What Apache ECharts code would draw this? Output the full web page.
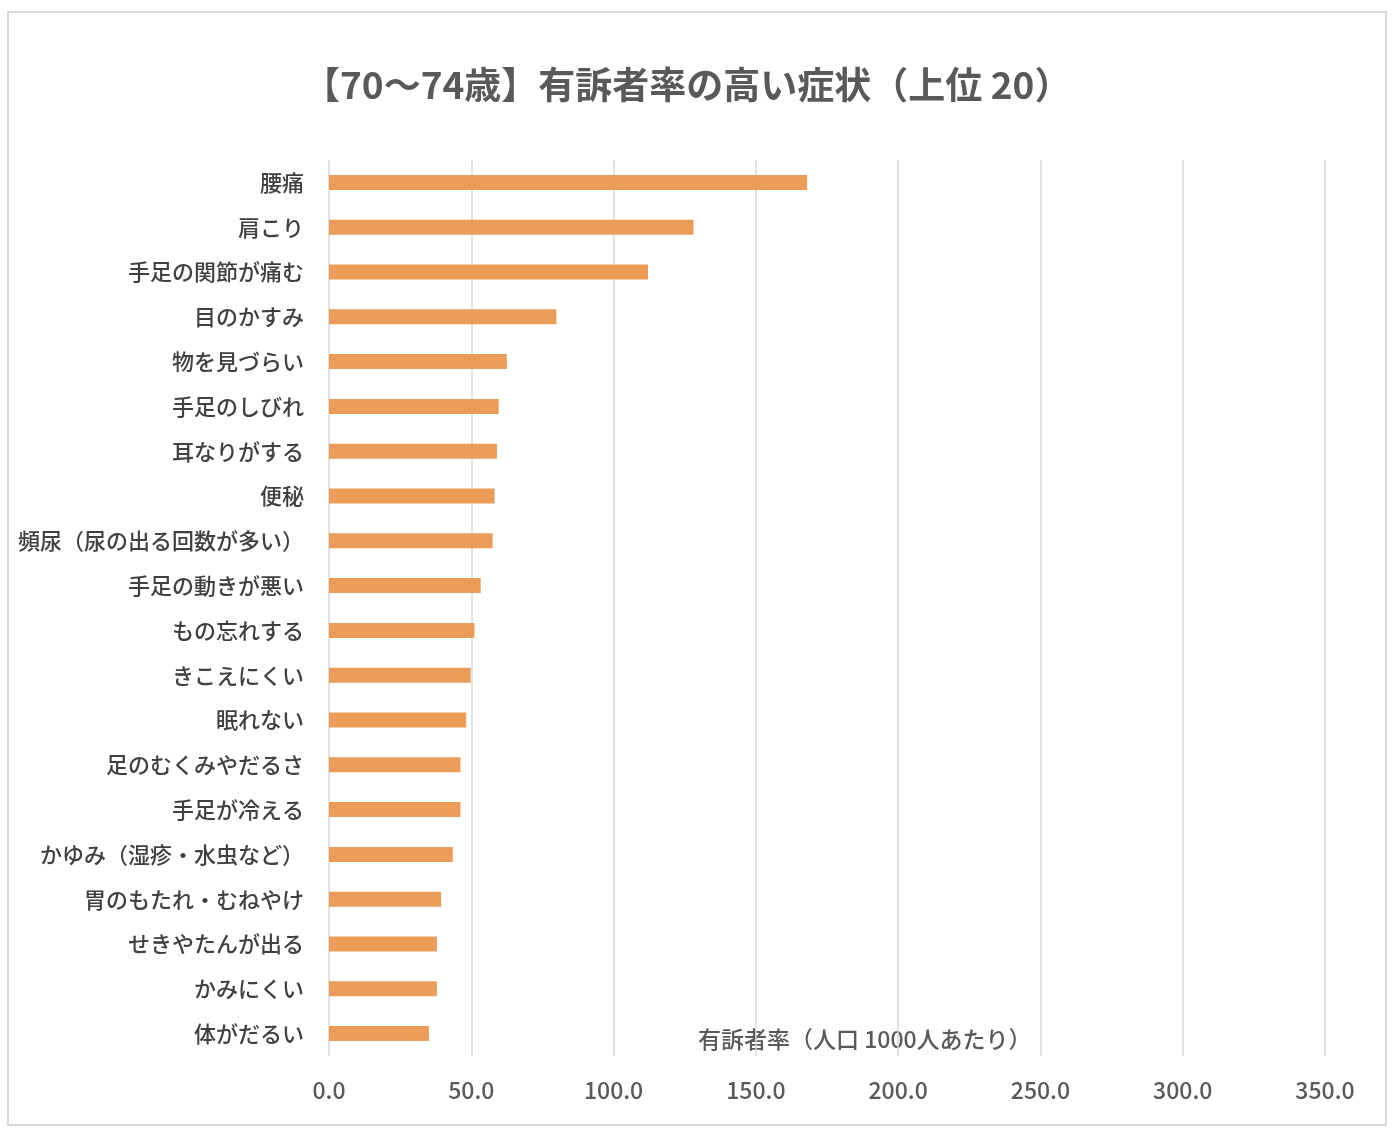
<!DOCTYPE html>
<html>
<head>
<meta charset="utf-8">
<script src="https://cdn.jsdelivr.net/npm/echarts@6/dist/echarts.min.js"></script>
<style>
  html, body { margin: 0; padding: 0; background: #fff; }
  #main { width: 1396px; height: 1138px; }
</style>
</head>
<body>
<div id="main"></div>
<script>
// 症状（上から順）
var symptoms = [
  '腰痛', '肩こり', '手足の関節が痛む', '目のかすみ', '物を見づらい',
  '手足のしびれ', '耳なりがする', '便秘', '頻尿（尿の出る回数が多い）', '手足の動きが悪い',
  'もの忘れする', 'きこえにくい', '眠れない', '足のむくみやだるさ', '手足が冷える',
  'かゆみ（湿疹・水虫など）', '胃のもたれ・むねやけ', 'せきやたんが出る', 'かみにくい', '体がだるい'
];
// 有訴者率（人口1000人あたり）
var rates = [
  168.0, 128.1, 112.1, 79.9, 62.5,
  59.6, 59.0, 58.2, 57.5, 53.3,
  51.1, 49.8, 48.2, 46.2, 46.2,
  43.5, 39.4, 37.9, 37.9, 35.1
];
var xTicks = [0, 50, 100, 150, 200, 250, 300, 350];

var font = '"Noto Sans CJK JP", "Noto Sans", sans-serif';
var myChart = echarts.init(document.getElementById('main'));

myChart.setOption({
  animation: false,
  backgroundColor: '#fff',
  title: {
    text: '【70〜74歳】有訴者率の高い症状（上位 20）',
    left: 298,
    top: 61,
    textStyle: { fontFamily: font, fontSize: 37, fontWeight: 'bold', color: '#595959' }
  },
  grid: { left: 329, right: 71, top: 160, bottom: 82, containLabel: false },
  graphic: [
    {
      type: 'rect',
      shape: { x: 8, y: 12, width: 1378, height: 1113 },
      style: { fill: 'none', stroke: '#d9d9d9', lineWidth: 2 },
      z: -1
    },
    {
      type: 'text',
      left: 698,
      top: 1028,
      style: {
        text: '有訴者率（人口 1000人あたり）',
        font: '500 23px ' + font,
        fill: '#595959'
      }
    }
  ],
  xAxis: {
    type: 'value',
    min: xTicks[0],
    max: xTicks[xTicks.length - 1],
    interval: 50,
    axisLine: { show: false },
    axisTick: { show: false },
    splitLine: { show: true, lineStyle: { color: '#d9d9d9', width: 1.5 } },
    axisLabel: {
      margin: 23,
      fontFamily: font,
      fontSize: 23,
      fontWeight: 500,
      color: '#595959',
      formatter: function (v) { return v.toFixed(1); }
    }
  },
  yAxis: {
    type: 'category',
    inverse: true,
    data: symptoms,
    axisLine: { show: false },
    axisTick: { show: false },
    axisLabel: { margin: 25, fontFamily: font, fontSize: 22, fontWeight: 500, color: '#404040' }
  },
  series: [{
    type: 'bar',
    data: rates,
    barWidth: 15,
    itemStyle: { color: '#EA9C58' }
  }]
});
</script>
</body>
</html>
